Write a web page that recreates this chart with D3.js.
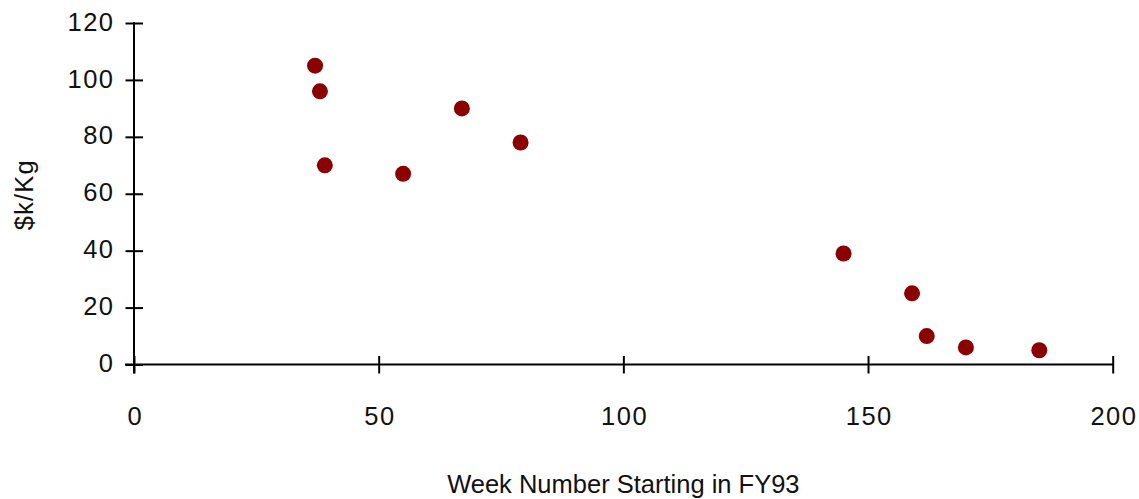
<!DOCTYPE html>
<html><head><meta charset="utf-8">
<script src="https://cdn.jsdelivr.net/npm/d3@7"></script>
<style>body{margin:0;background:#fff}svg{display:block}text{font-family:"Liberation Sans",Arial,sans-serif;fill:#111}</style>
</head><body>
<svg id="c" width="1139" height="499"></svg>
<script>
const weeks = [37, 38, 39, 55, 67, 79, 145, 159, 162, 170, 185];
const costs = [105, 96, 70, 67, 90, 78, 39, 25, 10, 6, 5];
const xTicks = [0, 50, 100, 150, 200];
const yTicks = [0, 20, 40, 60, 80, 100, 120];
const xTitle = "Week Number Starting in FY93";
const yTitle = "$k/Kg";

const svg = d3.select("#c");
const x = d3.scaleLinear().domain([0, 200]).range([134, 1112.7]);
const y = d3.scaleLinear().domain([0, 120]).range([364.5, 23]);
const fs = 25.5;
const FF = "Liberation Sans";

// X axis
const gx = svg.append("g").attr("transform", `translate(0,${y(0)})`)
  .call(d3.axisBottom(x).tickValues(xTicks).tickFormat(d3.format("d")).tickSize(9).tickPadding(33));
gx.select(".domain").remove();
gx.selectAll(".tick line").attr("y1", -8.5).attr("y2", 9).attr("stroke", "#000").attr("stroke-width", 2);
gx.selectAll(".tick text").attr("font-size", fs).attr("font-family", FF).attr("fill", "#111")
  .attr("letter-spacing", 1.5).attr("dx", 0.75);
gx.append("line").attr("x1", x(0) - 9).attr("x2", x(200) + 1).attr("y1", 0).attr("y2", 0).attr("stroke", "#000").attr("stroke-width", 2);

// Y axis
const gy = svg.append("g").attr("transform", `translate(${x(0)},0)`)
  .call(d3.axisLeft(y).tickValues(yTicks).tickFormat(d3.format("d")).tickSize(8.5).tickPadding(11));
gy.select(".domain").remove();
gy.selectAll(".tick line").attr("x1", 9).attr("x2", -8.5).attr("stroke", "#000").attr("stroke-width", 2);
gy.selectAll(".tick text").attr("font-size", fs).attr("font-family", FF).attr("fill", "#111")
  .attr("letter-spacing", 1.5).attr("dy", "0.28em");
gy.append("line").attr("x1", 0).attr("x2", 0).attr("y1", y(120) - 1).attr("y2", y(0) + 9).attr("stroke", "#000").attr("stroke-width", 2);

// Points
svg.append("g").selectAll("circle").data(weeks.map((w, i) => ({w, c: costs[i]})))
  .join("circle").attr("cx", d => x(d.w)).attr("cy", d => y(d.c)).attr("r", 8).attr("fill", "#8b0000");

// Titles
svg.append("text").attr("x", (x(0) + x(200)) / 2).attr("y", 493).attr("text-anchor", "middle")
  .attr("font-size", fs).text(xTitle);
svg.append("text").attr("transform", `translate(33,${(y(0) + y(120)) / 2 + 1}) rotate(-90)`)
  .attr("text-anchor", "middle").attr("font-size", fs).attr("letter-spacing", 1.2).text(yTitle);
</script>
</body></html>
